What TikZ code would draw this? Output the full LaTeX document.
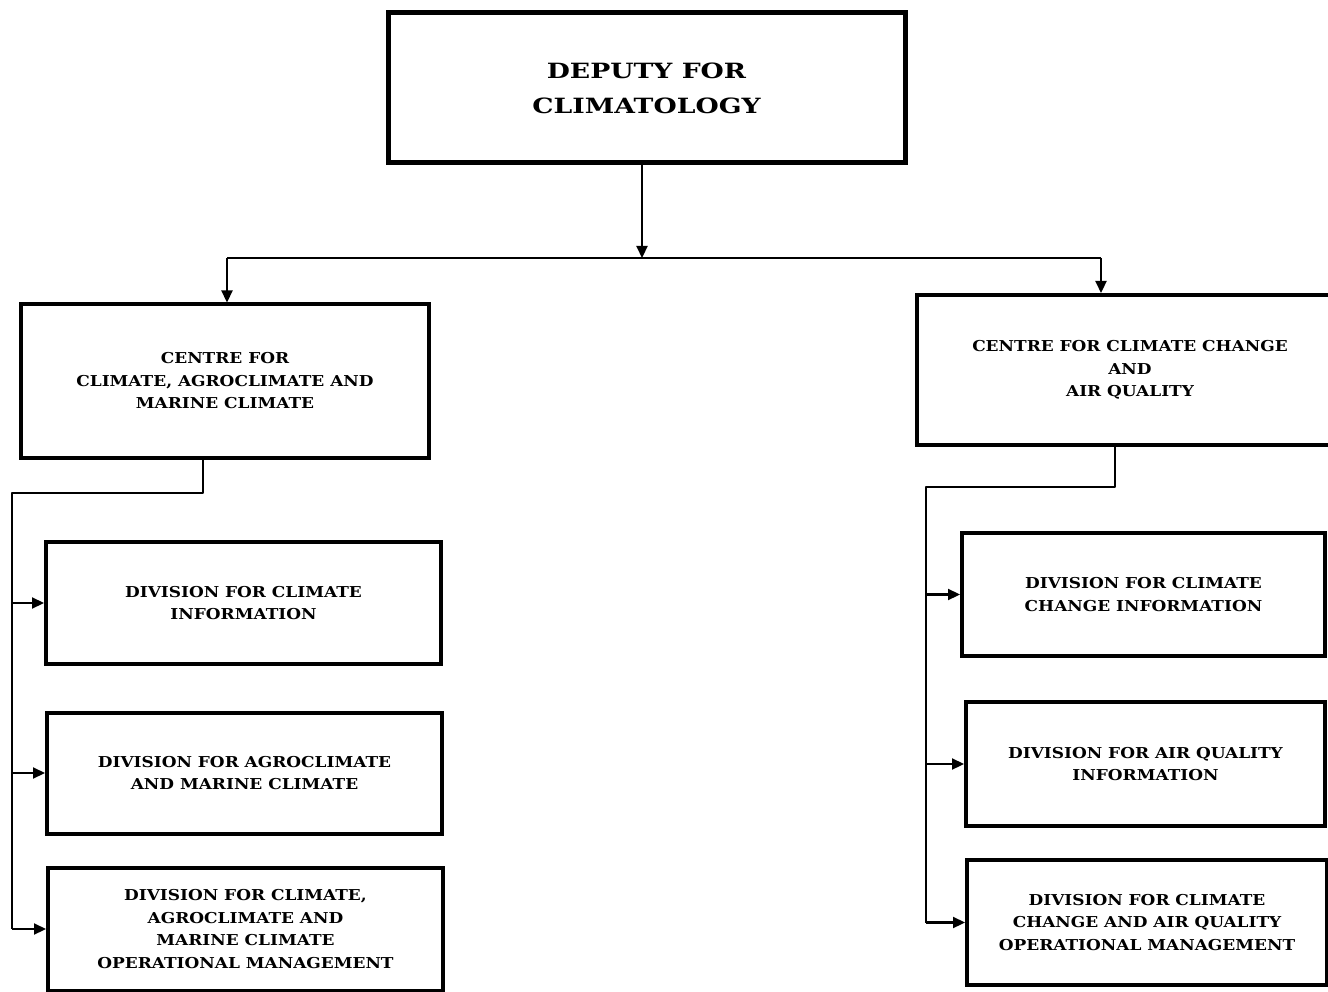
\documentclass[tikz,border=0pt]{standalone}
\usepackage{fontspec}
\setmainfont{DejaVu Serif}
\newfontfamily\boxfont[FakeStretch=1.13]{DejaVu Serif}
\newfontfamily\topfont[FakeStretch=1.27]{DejaVu Serif}
\usetikzlibrary{arrows.meta}
\begin{document}
\begin{tikzpicture}[x=1pt,y=-1pt,
  box/.style={draw,line width=4pt,inner sep=0pt,align=center,
    font=\boxfont\bfseries\fontsize{15}{22.5}\selectfont},
  conn/.style={line width=2.2pt,line join=round},
  arr/.style={conn,-{Triangle[length=12pt,width=11pt]}}]
\useasboundingbox (0,0) rectangle (1328,992);
% boxes
\node[box,line width=5pt,minimum width=517pt,minimum height=150pt,
  font=\topfont\bfseries\fontsize{21}{35}\selectfont] (top) at (646.5,88) {DEPUTY FOR\\CLIMATOLOGY};
\node[box,minimum width=408pt,minimum height=153pt] (cl) at (225,381)
  {CENTRE FOR\\CLIMATE, AGROCLIMATE AND\\MARINE CLIMATE};
\node[box,minimum width=426pt,minimum height=150pt] (cr) at (1130,370)
  {CENTRE FOR CLIMATE CHANGE\\AND\\AIR QUALITY};
\node[box,minimum width=395pt,minimum height=122pt] (l1) at (243.5,603)
  {DIVISION FOR CLIMATE\\INFORMATION};
\node[box,minimum width=395pt,minimum height=121pt] (l2) at (244.5,773)
  {DIVISION FOR AGROCLIMATE\\AND MARINE CLIMATE};
\node[box,minimum width=395pt,minimum height=123pt] (l3) at (245.5,929)
  {DIVISION FOR CLIMATE,\\AGROCLIMATE AND\\MARINE CLIMATE\\OPERATIONAL MANAGEMENT};
\node[box,minimum width=363pt,minimum height=123pt] (r1) at (1143.5,594.5)
  {DIVISION FOR CLIMATE\\CHANGE INFORMATION};
\node[box,minimum width=359pt,minimum height=124pt] (r2) at (1145.5,764)
  {DIVISION FOR AIR QUALITY\\INFORMATION};
\node[box,minimum width=360pt,minimum height=125pt] (r3) at (1147,922.5)
  {DIVISION FOR CLIMATE\\CHANGE AND AIR QUALITY\\OPERATIONAL MANAGEMENT};
% top connectors
\coordinate (hub) at (642,258);
\coordinate (jl) at (227,258);
\coordinate (jr) at (1101,258);
\draw[arr] (top.south -| hub) -- (hub);
\draw[conn] (jl) -- (jr);
\draw[arr] (jl) -- (cl.north -| jl);
\draw[arr] (jr) -- (cr.north -| jr);
% left tree
\coordinate (ls) at (203,493);
\coordinate (lt) at (12,493);
\draw[conn] (cl.south -| ls) -- (ls) -- (lt) -- (lt |- l3.west);
\draw[arr] (lt |- l1.west) -- (l1.west);
\draw[arr] (lt |- l2.west) -- (l2.west);
\draw[arr] (lt |- l3.west) -- (l3.west);
% right tree
\coordinate (rs) at (1115,487);
\coordinate (rt) at (926,487);
\draw[conn] (cr.south -| rs) -- (rs) -- (rt) -- (rt |- r3.west);
\draw[arr] (rt |- r1.west) -- (r1.west);
\draw[arr] (rt |- r2.west) -- (r2.west);
\draw[arr] (rt |- r3.west) -- (r3.west);
\end{tikzpicture}
\end{document}
